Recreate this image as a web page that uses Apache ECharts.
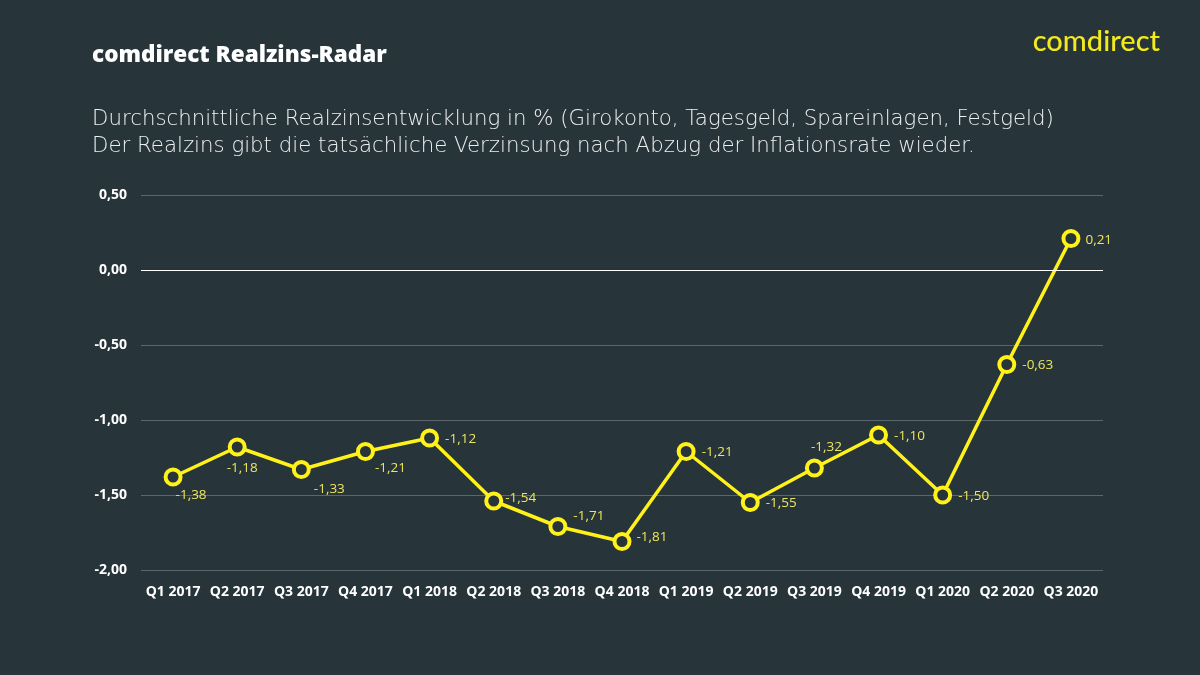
<!DOCTYPE html>
<html><head><meta charset="utf-8">
<script src="https://cdn.jsdelivr.net/npm/echarts@6/dist/echarts.min.js"></script>
<style>html,body{margin:0;padding:0;background:#27343a;}#c{width:1200px;height:675px;}</style>
</head><body><div id="c"></div>
<script>
const categories = ["Q1 2017","Q2 2017","Q3 2017","Q4 2017","Q1 2018","Q2 2018","Q3 2018","Q4 2018","Q1 2019","Q2 2019","Q3 2019","Q4 2019","Q1 2020","Q2 2020","Q3 2020"];
const realzins = [-1.38,-1.18,-1.33,-1.21,-1.12,-1.54,-1.71,-1.81,-1.21,-1.55,-1.32,-1.10,-1.50,-0.63,0.21];
const yTicks = [-2,-1.5,-1,-0.5,0,0.5];

const labelPlacement = [
  {position:'bottom', offset:[18,-6]},
  {position:'bottom', offset:[5,-3]},
  {position:'bottom', offset:[28,-5]},
  {position:'bottom', offset:[25,-8]},
  {position:'right', offset:[-2,1]},
  {position:'right', offset:[-6,-3]},
  {position:'top', offset:[31,14]},
  {position:'right', offset:[-3,-4]},
  {position:'right', offset:[-2,1]},
  {position:'right', offset:[-2,1]},
  {position:'top', offset:[12,4]},
  {position:'right', offset:[-2,1]},
  {position:'right', offset:[-2,1]},
  {position:'right', offset:[-2,1]},
  {position:'right', offset:[-3,2]}
];
const fmt = v => v.toFixed(2).replace('.', ',');

const chart = echarts.init(document.getElementById('c'));
chart.setOption({
  backgroundColor:'#27343a',
  animation:false,
  graphic:[
    {type:'text', left:92, top:44, style:{text:'comdirect Realzins-Radar', fill:'#ffffff', font:'800 22.5px "Open Sans", sans-serif'}},
    {type:'text', left:92, top:106, style:{text:'Durchschnittliche Realzinsentwicklung in % (Girokonto, Tagesgeld, Spareinlagen, Festgeld)\nDer Realzins gibt die tatsächliche Verzinsung nach Abzug der Inflationsrate wieder.', fill:'#eceff0', font:'200 21.3px "DejaVu Sans", sans-serif', lineHeight:27}},
    {type:'text', right:40, top:27, style:{text:'comdirect', fill:'#f2ea1c', font:'500 29px Lato, sans-serif'}}
  ],
  grid:{left:141, right:97, top:195, bottom:105},
  xAxis:{
    type:'category', data:categories, boundaryGap:true,
    axisLine:{show:false}, axisTick:{show:false},
    axisLabel:{color:'#ffffff', fontWeight:'bold', fontSize:14, fontFamily:'"Open Sans", sans-serif', margin:15, interval:0}
  },
  yAxis:{
    type:'value', min:-2, max:0.5, interval:0.5,
    axisLine:{show:false}, axisTick:{show:false},
    axisLabel:{color:'#ffffff', fontWeight:'bold', fontSize:14, fontFamily:'"Open Sans", sans-serif', margin:14, formatter:v=>fmt(v)},
    splitLine:{lineStyle:{color:'#5b676c', width:1}}
  },
  series:[
    {
      type:'line', data:realzins.map((v,i)=>({value:v, label:labelPlacement[i]})),
      lineStyle:{color:'#fff21a', width:3.5},
      itemStyle:{color:'#27343a', borderColor:'#fff21a', borderWidth:4},
      symbol:'circle', symbolSize:15, showAllSymbol:true,
      label:{show:true, color:'#ece65a', fontSize:13.5, fontFamily:'"Open Sans", sans-serif', formatter:p=>fmt(p.value), distance:8},
      markLine:{silent:true, symbol:'none', label:{show:false}, lineStyle:{color:'#ffffff', width:1.2, type:'solid'}, data:[{yAxis:0}]},
      z:3
    }
  ]
});
</script></body></html>
